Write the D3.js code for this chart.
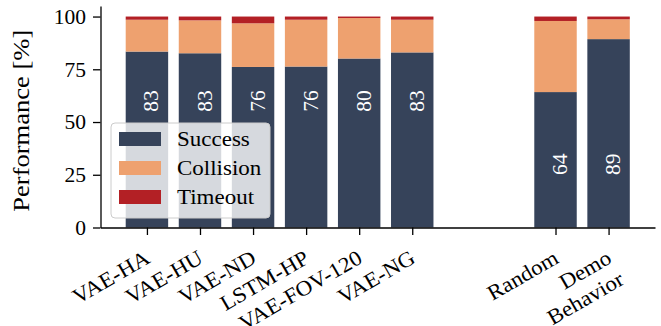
<!DOCTYPE html>
<html>
<head>
<meta charset="utf-8">
<script src="https://cdn.jsdelivr.net/npm/d3@7"></script>
<style>
  html, body { margin: 0; padding: 0; background: #fff; }
</style>
</head>
<body>
<svg id="chart" width="661" height="326"></svg>
<script>
// Outcome shares per planner variant, in percent of episodes
const categories = ["VAE-HA", "VAE-HU", "VAE-ND", "LSTM-HP", "VAE-FOV-120", "VAE-NG", "Random", "Demo\nBehavior"];
const slots = [0, 1, 2, 3, 4, 5, 7.7, 8.7];
const success   = [83.4, 82.6, 76.1, 76.3, 80.1, 83.0, 64.2, 89.3];
const collision = [15.1, 15.6, 20.7, 22.2, 19.2, 15.5, 33.7, 9.4];
const timeout   = [1.5, 1.8, 3.2, 1.5, 0.7, 1.5, 2.1, 1.3];
const valueLabels = ["83", "83", "76", "76", "80", "83", "64", "89"];
const labelHeights = [60, 60, 60, 60, 60, 60, 30, 30];
const yTicks = [0, 25, 50, 75, 100];
const seriesNames = ["Success", "Collision", "Timeout"];
const seriesColors = ["#36435a", "#eea16f", "#b32025"];

const FONT = "'Liberation Serif', serif";
const svg = d3.select("#chart");
const plot = { left: 100.5, right: 655, top: 6, bottom: 227.5 };
const barWidth = 0.8;
const fontSize = 21.5;
const stretch = 1.07; // widen the serif face a little along the baseline

// x extent: bar edges plus a 5% margin on each side
const lo = d3.min(slots) - barWidth / 2, hi = d3.max(slots) + barWidth / 2;
const pad = (hi - lo) * 0.05;
const x = d3.scaleLinear().domain([lo - pad, hi + pad]).range([plot.left, plot.right]);
const y = d3.scaleLinear().domain([0, 105]).range([plot.bottom, plot.top]);

const rows = categories.map((c, i) => ({
  name: c, pos: slots[i],
  Success: success[i], Collision: collision[i], Timeout: timeout[i],
  label: valueLabels[i], labelAt: labelHeights[i]
}));
const stacked = d3.stack().keys(seriesNames)(rows);

// stacked bars
const bw = x(barWidth) - x(0);
svg.append("g").selectAll("g")
  .data(stacked).join("g")
  .attr("fill", (d, i) => seriesColors[i])
  .selectAll("rect")
  .data(d => d).join("rect")
  .attr("x", d => x(d.data.pos) - bw / 2)
  .attr("width", bw)
  .attr("y", d => y(d[1]))
  .attr("height", d => y(d[0]) - y(d[1]));

// success values written inside the bars
svg.append("g").selectAll("text")
  .data(rows).join("text")
  .attr("transform", d => `translate(${x(d.pos) + 4},${y(d.labelAt)}) rotate(-90)`)
  .attr("text-anchor", "middle")
  .attr("dy", "0.35em")
  .attr("fill", "#fff")
  .style("font-family", FONT)
  .style("font-size", fontSize + "px")
  .text(d => d.label);

// y axis
const yAxis = svg.append("g")
  .attr("transform", `translate(${plot.left},0)`)
  .call(d3.axisLeft(y).tickValues(yTicks).tickSize(7.5).tickPadding(7).tickSizeOuter(0));
yAxis.select(".domain").attr("stroke", "#000").attr("stroke-width", 1.3);
yAxis.selectAll(".tick line").attr("stroke", "#000").attr("stroke-width", 1.3);
yAxis.selectAll(".tick text")
  .style("font-family", FONT).style("font-size", fontSize + "px").attr("fill", "#000");

svg.append("text")
  .attr("transform", `translate(29,${(plot.top + plot.bottom) / 2 + 4}) rotate(-90)`)
  .attr("text-anchor", "middle")
  .attr("textLength", 182)
  .attr("lengthAdjust", "spacingAndGlyphs")
  .style("font-family", FONT)
  .style("font-size", "24px")
  .text("Performance [%]");

// x axis with slanted category names
const xAxis = svg.append("g")
  .attr("transform", `translate(0,${plot.bottom})`)
  .call(d3.axisBottom(x).tickValues(slots).tickSize(7.5).tickFormat("").tickSizeOuter(0));
xAxis.select(".domain").attr("stroke", "#000").attr("stroke-width", 1.3);
xAxis.selectAll(".tick line").attr("stroke", "#000").attr("stroke-width", 1.3);

const lineGap = fontSize * 1.15;
const tickLabels = svg.append("g").selectAll("text")
  .data(rows).join("text")
  .attr("transform", d => `translate(${x(d.pos) + 4.5},${plot.bottom + 34.5}) rotate(-30) scale(${stretch},1)`)
  .attr("text-anchor", "end")
  .style("font-family", FONT)
  .style("font-size", fontSize + "px");
tickLabels.selectAll("tspan")
  .data(d => d.name.split("\n")).join("tspan")
  .attr("x", 0)
  .attr("y", (s, i) => i * lineGap)
  .text(s => s);

// legend
const lg = svg.append("g").attr("transform", "translate(111,123)");
lg.append("rect")
  .attr("width", 159).attr("height", 95).attr("rx", 4)
  .attr("fill", "#fff").attr("fill-opacity", 0.8)
  .attr("stroke", "#cccccc").attr("stroke-width", 1);
const items = lg.selectAll("g.item").data(seriesNames).join("g")
  .attr("class", "item")
  .attr("transform", (d, i) => `translate(8,${16 + i * 29})`);
items.append("rect")
  .attr("y", -7).attr("width", 42).attr("height", 14)
  .attr("fill", (d, i) => seriesColors[i]);
items.append("text")
  .attr("x", 58).attr("dy", "0.33em")
  .attr("transform", `scale(${stretch},1)`)
  .attr("x", 58 / stretch)
  .style("font-family", FONT)
  .style("font-size", fontSize + "px")
  .text(d => d);
</script>
</body>
</html>
